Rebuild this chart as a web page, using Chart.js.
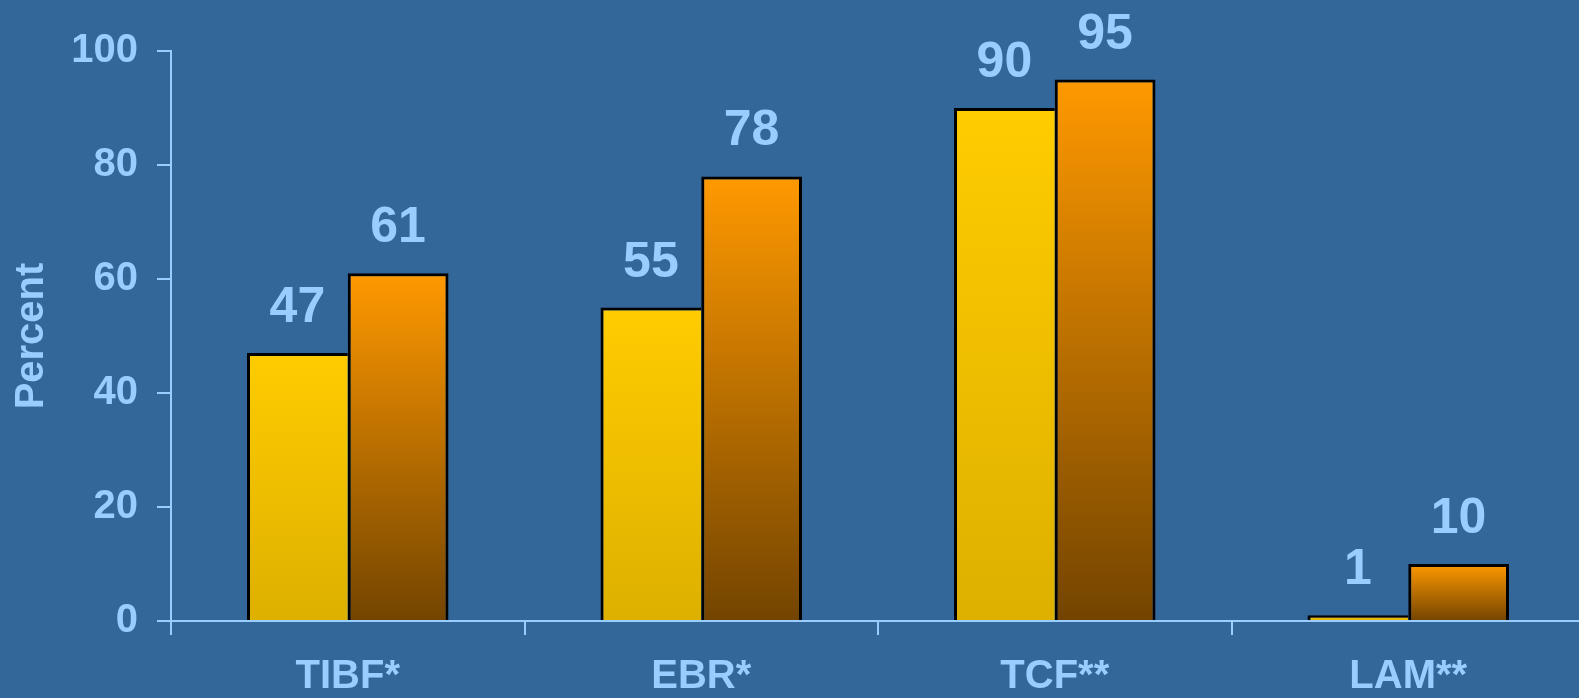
<!DOCTYPE html>
<html>
<head>
<meta charset="utf-8">
<script src="https://cdn.jsdelivr.net/npm/chart.js@4/dist/chart.umd.min.js"></script>
<style>
    html, body { margin: 0; padding: 0; background: #336699; overflow: hidden; }
    #wrap { position: relative; width: 1585px; height: 698px; }
</style>
</head>
<body>
<div id="wrap"><canvas id="percent-chart"></canvas></div>
<script>
// Chart data
const categories = ["TIBF*", "EBR*", "TCF**", "LAM**"];
const firstValues = [47, 55, 90, 1];
const secondValues = [61, 78, 95, 10];
const yTicks = [0, 20, 40, 60, 80, 100];

const axisBlue = "#99CCFF";
const fontFamily = "'Liberation Sans', Arial, Helvetica, sans-serif";

// Vertical gradient spanning each bar from its top down to zero
function barGradient(ctx, topColor, bottomColor) {
    const chart = ctx.chart;
    const yScale = chart.scales.y;
    if (!chart.chartArea || !yScale || ctx.type !== "data") return topColor;
    const y0 = yScale.getPixelForValue(0);
    const y1 = yScale.getPixelForValue(ctx.raw);
    if (!isFinite(y0) || !isFinite(y1) || y0 === y1) return topColor;
    const g = chart.ctx.createLinearGradient(0, y1, 0, y0);
    g.addColorStop(0, topColor);
    g.addColorStop(1, bottomColor);
    return g;
}

// Value labels above every bar
const valueLabels = {
    id: "valueLabels",
    afterDatasetsDraw(chart) {
        const c = chart.ctx;
        c.save();
        c.font = `bold 50px ${fontFamily}`;
        c.fillStyle = axisBlue;
        c.textAlign = "center";
        c.textBaseline = "alphabetic";
        chart.data.datasets.forEach((ds, i) => {
            chart.getDatasetMeta(i).data.forEach((bar, j) => {
                c.fillText(String(ds.data[j]), bar.x, bar.y - 31);
            });
        });
        c.restore();
    }
};

const ctx = document.getElementById("percent-chart").getContext("2d");
new Chart(ctx, {
    type: "bar",
    data: {
        labels: categories,
        datasets: [
            {
                label: "Series 1",
                data: firstValues,
                backgroundColor: c => barGradient(c, "#FFCC00", "#DDB000"),
                borderColor: "#000000",
                borderWidth: { top: 3, left: 3, right: 0, bottom: 0 },
                borderSkipped: false,
                barPercentage: 1,
                categoryPercentage: 0.57
            },
            {
                label: "Series 2",
                data: secondValues,
                backgroundColor: c => barGradient(c, "#FF9900", "#734400"),
                borderColor: "#000000",
                borderWidth: { top: 3, left: 3, right: 3, bottom: 0 },
                borderSkipped: false,
                barPercentage: 1,
                categoryPercentage: 0.57
            }
        ]
    },
    options: {
        responsive: true,
        maintainAspectRatio: false,
        animation: false,
        layout: { padding: { top: 51, left: 0, right: 0, bottom: 0 } },
        plugins: {
            legend: { display: false },
            tooltip: { enabled: false }
        },
        scales: {
            x: {
                offset: true,
                grid: {
                    offset: true,
                    drawOnChartArea: false,
                    drawTicks: true,
                    tickLength: 14,
                    tickColor: axisBlue,
                    lineWidth: 2
                },
                border: { color: axisBlue, width: 2 },
                ticks: {
                    color: axisBlue,
                    padding: 18,
                    font: { family: fontFamily, size: 40, weight: "bold" }
                },
                afterFit: scale => { scale.height = 77; }
            },
            y: {
                min: 0,
                max: 100,
                afterBuildTicks: scale => { scale.ticks = yTicks.map(v => ({ value: v })); },
                grid: {
                    drawOnChartArea: false,
                    drawTicks: true,
                    tickLength: 14,
                    tickColor: axisBlue,
                    lineWidth: 2
                },
                border: { color: axisBlue, width: 2 },
                ticks: {
                    color: axisBlue,
                    padding: 19,
                    font: { family: fontFamily, size: 40, weight: "bold" }
                },
                title: {
                    display: true,
                    text: "Percent",
                    color: axisBlue,
                    padding: { top: 8, bottom: 0 },
                    font: { family: fontFamily, size: 40, weight: "bold" }
                },
                afterFit: scale => { scale.width = 171; }
            }
        }
    },
    plugins: [valueLabels]
});
</script>
</body>
</html>
